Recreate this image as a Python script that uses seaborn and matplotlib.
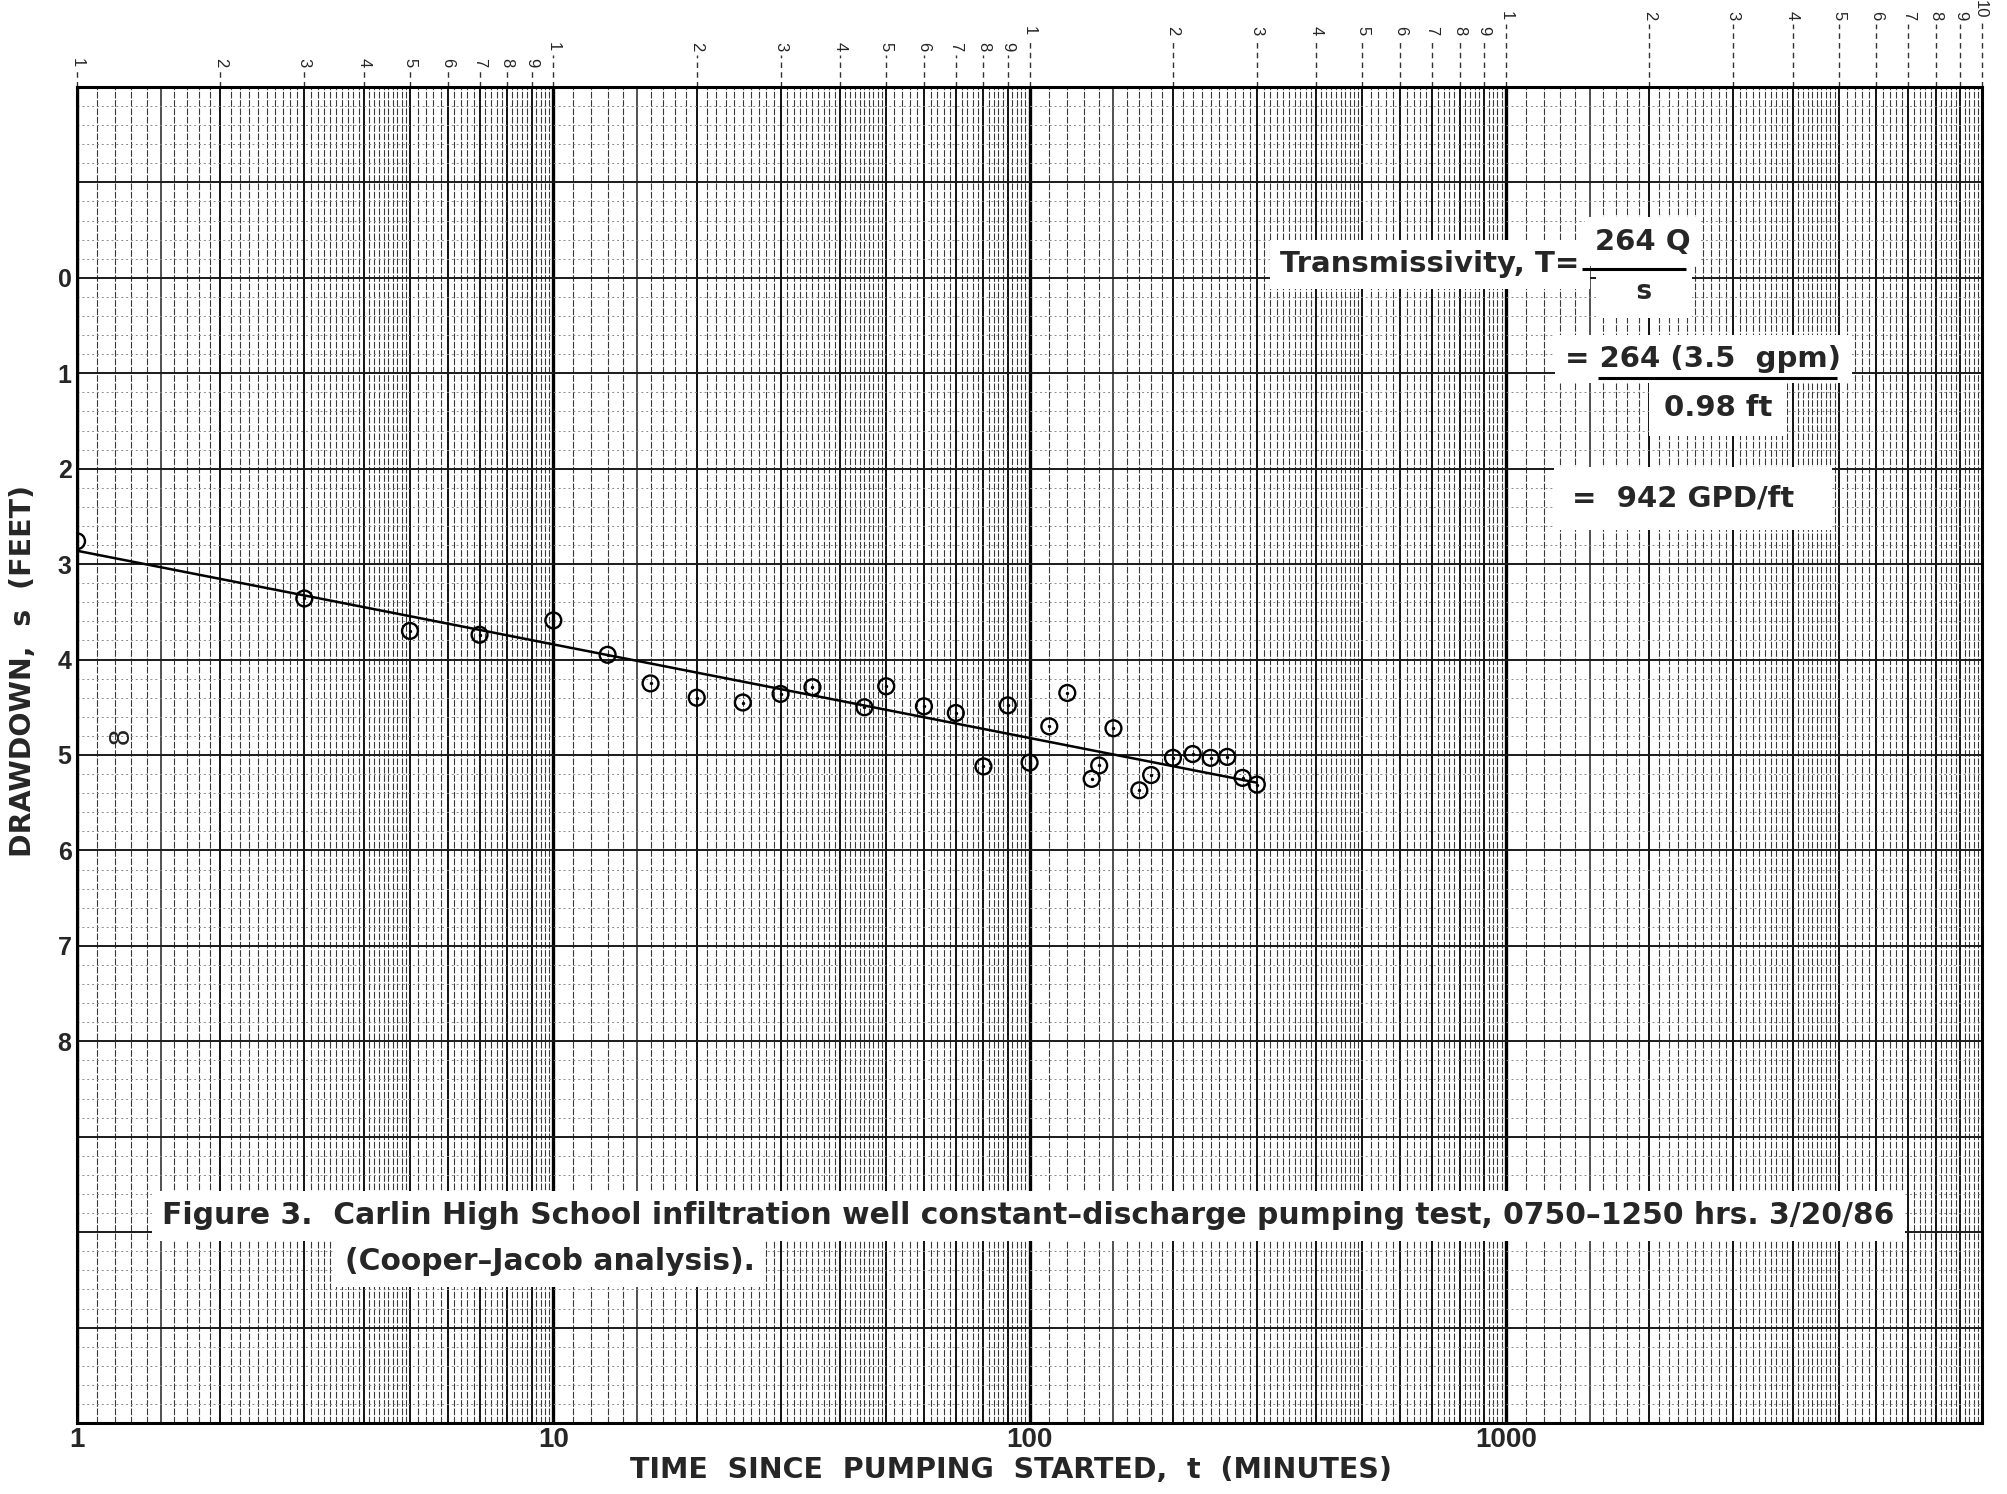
import numpy as np
import pandas as pd
import matplotlib
matplotlib.use("Agg")
import matplotlib.pyplot as plt
import seaborn as sns

# drawdown readings, Carlin High School well test
time_min = [1, 3, 5, 7, 10, 13, 16, 20, 25, 30, 35, 45, 50, 60, 70, 80, 90, 100,
            110, 120, 135, 140, 150, 170, 180, 200, 220, 240, 260, 280, 300]
drawdown_ft = [2.76, 3.36, 3.70, 3.74, 3.59, 3.95, 4.25, 4.40, 4.45, 4.36, 4.29,
               4.50, 4.28, 4.49, 4.56, 5.12, 4.48, 5.08, 4.70, 4.35, 5.25, 5.11,
               4.72, 5.37, 5.21, 5.03, 4.99, 5.03, 5.02, 5.24, 5.31]

# straight line drawn through the points
fit_time = [1, 300]
fit_drawdown = [2.86, 5.29]

bottom_ticks = [1, 10, 100, 1000]
bottom_labels = ["1", "10", "100", "1000"]
y_ticks = [0, 1, 2, 3, 4, 5, 6, 7, 8]

df = pd.DataFrame({"t": time_min, "s": drawdown_ft})

sns.set_style("white")
plt.rcParams["font.family"] = ["Liberation Sans", "DejaVu Sans"]
wide = ["DejaVu Sans"]

fig = plt.figure(figsize=(20.07, 14.94), dpi=100)
ax = fig.add_axes([0.0384, 0.0475, 0.9492, 0.8943])
ax.set_xscale("log")
ax.set_xlim(1, 10000)
ax.set_ylim(12, -2)
ax_h = 14.94 * 100 * 0.8943

# semi-log paper
for d in [1, 10, 100, 1000]:
    ax.axvline(d, color="black", lw=2.4, zorder=1)
    for k in range(2, 10):
        ax.axvline(k * d, color="#111111", lw=1.4, zorder=1)
    subs = [round(v, 1) for v in np.arange(1.1, 5.0, 0.1)] + [5.2, 5.4, 5.6, 5.8, 6.2, 6.4, 6.6, 6.8,
                                                              7.2, 7.4, 7.6, 7.8, 8.2, 8.4, 8.6, 8.8,
                                                              9.2, 9.4, 9.6, 9.8]
    for f in subs:
        if abs(f - round(f)) < 1e-6:
            continue
        if abs(f - 1.5) < 1e-6:
            ax.axvline(f * d, color="#222222", lw=1.1, zorder=1)
        else:
            ax.axvline(f * d, color="#3a3a3a", lw=0.8, ls=(0, (6, 1.5)), zorder=1)

for v in range(-2, 13):
    ax.axhline(v, color="#1a1a1a", lw=1.4, zorder=1)
for v in np.arange(-2, 12, 0.2):
    v = round(v, 1)
    if abs(v - round(v)) > 1e-6:
        ax.axhline(v, color="#8a8a8a", lw=0.7, ls=(0, (2, 3)), zorder=1)

for sp in ax.spines.values():
    sp.set_linewidth(2.2)
    sp.set_color("black")
    sp.set_zorder(7)

# cycle numbers along the top edge
levels = {1: 24, 10: 40, 100: 56, 1000: 71}
for d, off in levels.items():
    for k in range(1, 10):
        ax.vlines(k * d, 1, 1 + (off - 8) / ax_h, transform=ax.get_xaxis_transform(),
                  color="#333333", lw=1.0, ls=(0, (4, 3)), clip_on=False)
        ax.annotate(str(k), xy=(k * d, 1), xycoords=("data", "axes fraction"),
                    xytext=(0, off), textcoords="offset pixels", rotation=-90,
                    ha="center", va="center", fontsize=12)
ax.vlines(10000, 1, 1 + 68 / ax_h, transform=ax.get_xaxis_transform(),
          color="#333333", lw=1.0, ls=(0, (4, 3)), clip_on=False)
ax.annotate("10", xy=(10000, 1), xycoords=("data", "axes fraction"),
            xytext=(-2, 78), textcoords="offset pixels", rotation=-90,
            ha="center", va="center", fontsize=12)

# data
sns.lineplot(x=fit_time, y=fit_drawdown, color="black", lw=1.8, ax=ax, zorder=5)
sns.scatterplot(data=df, x="t", y="s", ax=ax, marker="o", s=130,
                facecolor="none", edgecolor="black", linewidth=1.7, zorder=6)
sns.scatterplot(data=df, x="t", y="s", ax=ax, marker="o", s=6,
                color="black", linewidth=0, zorder=6)

ax.text(1.236, 4.80, "8", rotation=90, fontsize=21, ha="center", va="center",
        color="#222222", zorder=5)

# axes labels
ax.set_xticks(bottom_ticks)
ax.set_xticklabels(bottom_labels)
ax.xaxis.set_minor_locator(matplotlib.ticker.NullLocator())
ax.set_yticks(y_ticks)
ax.set_yticklabels([str(v) for v in y_ticks])
ax.tick_params(axis="x", length=0, pad=3, labelsize=20)
ax.tick_params(axis="y", length=0, pad=4, labelsize=18)
for lab in ax.get_xticklabels() + ax.get_yticklabels():
    lab.set_fontweight("bold")

ax.set_xlabel("TIME  SINCE  PUMPING  STARTED,  t  (MINUTES)", fontsize=20.5,
              fontweight="bold", family=wide)
ax.xaxis.set_label_coords(0.49, -0.025)
ax.set_ylabel("DRAWDOWN,  s  (FEET)", fontsize=20.5, fontweight="bold", family=wide)
ax.yaxis.set_label_coords(-0.021, 0.563)

# transmissivity calculation
box = dict(boxstyle="square,pad=0.35", facecolor="white", edgecolor="none")
ax.text(693, -0.14, "Transmissivity, T=", fontsize=21, fontweight="bold", family=wide,
        ha="center", va="center", bbox=box, zorder=8)
ax.text(1940, -0.38, "264 Q", fontsize=21, fontweight="bold", family=wide,
        ha="center", va="center", bbox=box, zorder=8)
ax.text(1950, 0.15, "   s   ", fontsize=19, fontweight="bold", family=wide,
        ha="center", va="center", bbox=dict(boxstyle="square,pad=0.5", facecolor="white",
                                            edgecolor="none"), zorder=8)
ax.hlines(-0.09, 1442, 2393, color="black", lw=2.2, zorder=9)
ax.text(2600, 0.85, "= 264 (3.5  gpm)", fontsize=21, fontweight="bold", family=wide,
        ha="center", va="center", bbox=box, zorder=8)
ax.hlines(1.05, 1565, 4950, color="black", lw=2.2, zorder=9)
ax.text(2790, 1.36, "0.98 ft", fontsize=21, fontweight="bold", family=wide,
        ha="center", va="center", bbox=dict(boxstyle="square,pad=0.5", facecolor="white",
                                            edgecolor="none"), zorder=8)
ax.text(2470, 2.31, "=  942 GPD/ft  ", fontsize=21, fontweight="bold", family=wide,
        ha="center", va="center", bbox=dict(boxstyle="square,pad=0.6", facecolor="white",
                                            edgecolor="none"), zorder=8)

# figure caption
ax.text(1.51, 9.83, "Figure 3.  Carlin High School infiltration well constant\u2013discharge pumping test, 0750\u20131250 hrs. 3/20/86",
        fontsize=21.4, fontweight="bold", family=wide, ha="left", va="center", bbox=box, zorder=8)
ax.text(3.65, 10.31, "(Cooper\u2013Jacob analysis).", fontsize=21.4, fontweight="bold", family=wide,
        ha="left", va="center", bbox=box, zorder=8)

fig.savefig("out.png", dpi=100, facecolor="white")
